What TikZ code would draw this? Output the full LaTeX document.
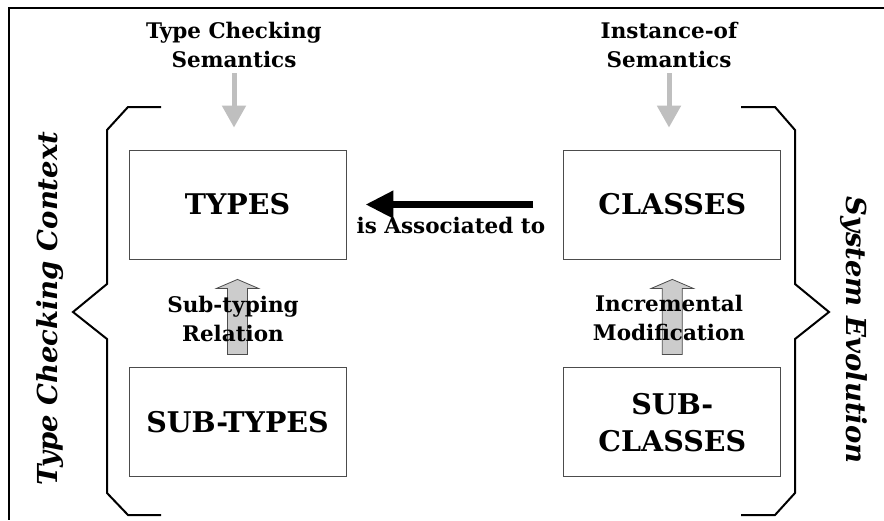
\documentclass[tikz,border=0pt]{standalone}
\usepackage{fontspec}
\setmainfont{DejaVu Serif}
\usetikzlibrary{positioning}
\usetikzlibrary{arrows.meta}
\usetikzlibrary{calc}
\tikzset{>=Latex}

\begin{document}
\begin{tikzpicture}[x=1pt, y=-1pt, node distance=108pt and 217pt,
  box/.style={draw=black!70, line width=0.8pt, minimum width=217pt, minimum height=109pt,
    align=center, font=\fontsize{28.5}{37}\selectfont\bfseries},
  lbl/.style={align=center, inner sep=2pt, font=\fontsize{21.5}{29}\selectfont\bfseries},
  side/.style={anchor=base, font=\fontsize{27.5}{32}\selectfont\bfseries\itshape},
  semarrow/.style={black!25, line width=5pt, -{Triangle[length=22pt,width=23pt]}},
  hollow/.style={draw=black!70, fill=black!20, line width=0.8pt},
  brace/.style={line width=2pt, line join=miter}]
  \useasboundingbox (0,0) rectangle (884,520);
  \draw[line width=1.5pt] (884,8) -- (9,8) -- (9,520);

  \node[box] (types) at (237.5,204.5) {TYPES};
  \node[box] (subtypes) [below=of types] {SUB-TYPES};
  \node[box] (classes) [right=of types] {CLASSES};
  \node[box] (subclasses) [below=of classes] {SUB-\\CLASSES};

  % semantics on top
  \node[lbl, anchor=south] (tcsem) at (234,70) {Type Checking\\Semantics};
  \node[lbl, anchor=south] (iosem) at (669,70) {Instance-of\\Semantics};
  \draw[semarrow, shorten <=3pt, shorten >=22pt] (tcsem.south) -- (tcsem.south |- types.north);
  \draw[semarrow, shorten <=3pt, shorten >=22pt] (iosem.south) -- (iosem.south |- classes.north);

  % hollow arrows
  \draw[hollow] ($(subtypes.north)+(-10,-13)$) -- ++(0,-66) -- ++(-11,0) -- ++(21,-9)
    -- ++(21,9) -- ++(-11,0) -- ++(0,66) -- cycle;
  \draw[hollow] ($(subclasses.north)+(-10,-13)$) -- ++(0,-66) -- ++(-11,0) -- ++(21,-9)
    -- ++(21,9) -- ++(-11,0) -- ++(0,66) -- cycle;
  \node[lbl, anchor=south] (subrel) at (233,344) {Sub-typing\\Relation};
  \node[lbl, anchor=south] (incmod) at (669,343) {Incremental\\Modification};

  \draw[line width=7pt, -{Triangle[length=28pt,width=26pt]}, shorten <=30pt, shorten >=19pt]
    (classes.west) -- (types.east)
    node[midway, anchor=base, yshift=-29pt, xshift=-4pt, lbl] (assoc) {is Associated to};

  % braces
  \draw[brace] (161,107) -- (128,107) -- (107,130) -- (107,284) -- (73,312) -- (107,339)
    -- (107,493) -- (128,515) -- (161,515);
  \draw[brace] (741,107) -- (775,107) -- (795,130) -- (795,284) -- (829,312) -- (795,339)
    -- (795,493) -- (775,515) -- (741,515);

  \node[side, rotate=90] (tcctx) at (57,308.5) {Type Checking Context};
  \node[side, rotate=-90] (sysevo) at (846,330) {System Evolution};
\end{tikzpicture}
\end{document}
